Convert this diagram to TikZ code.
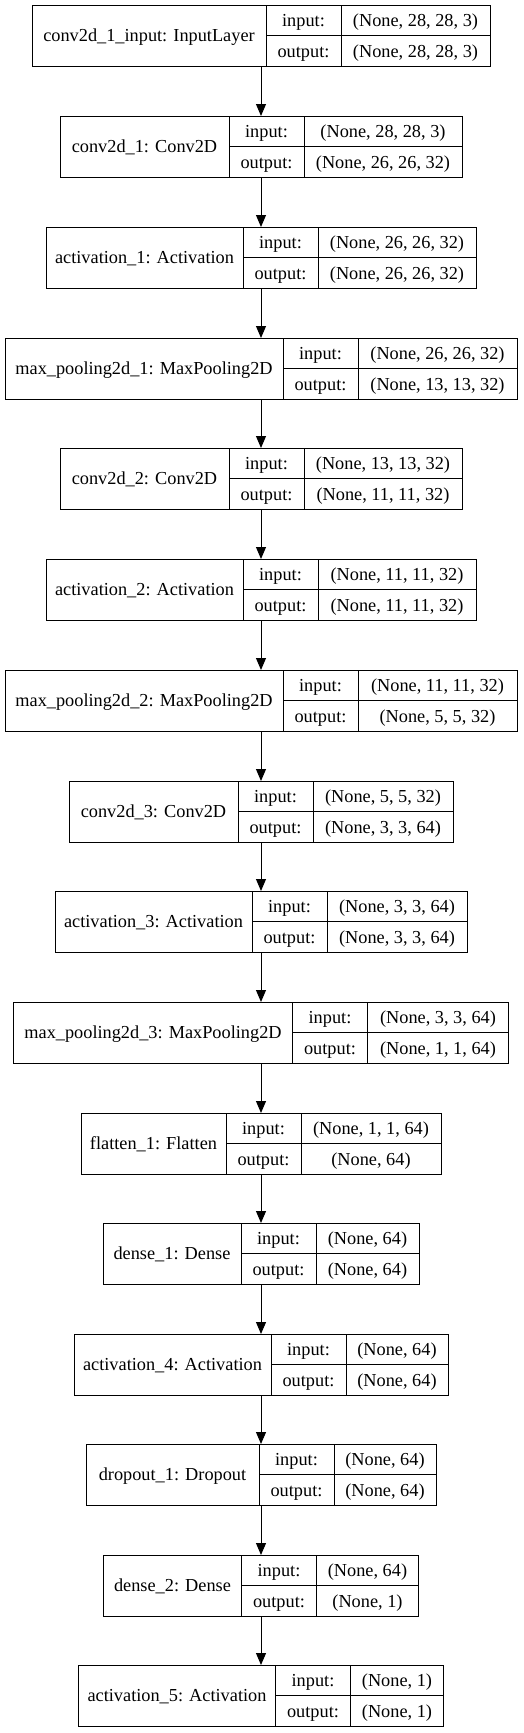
\documentclass[tikz,border=0pt]{standalone}
\usepackage{fontspec}
\setmainfont{Liberation Serif}
\usetikzlibrary{arrows.meta}

\begin{document}
\begin{tikzpicture}[x=1pt, y=-1pt,
    rec/.style={draw, line width=1pt, minimum height=61.5pt, inner sep=0, outer sep=0},
    cell/.style={draw, line width=1pt, inner sep=0, outer sep=0, text height=13pt, text depth=1pt,
        font=\fontsize{18.3}{20}\selectfont},
    arr/.style={-{Triangle[length=12pt, width=10pt]}, line width=1pt}]
    \def\H{61.5} \def\h{30.75} \def\W{75}
    \def\layer#1#2#3#4#5#6#7{
        \node[rec, minimum width={#3pt+\W pt+#4pt}, anchor=north] (#1) at (261, #2) {};
        \node[cell, minimum width=#3pt, minimum height=\H pt, anchor=north west] (#1n) at (#1.north west) {#5};
        \node[cell, minimum width=\W pt, minimum height=\h pt, anchor=north west] (#1i) at (#1n.north east) {input:};
        \node[cell, minimum width=\W pt, minimum height=\h pt, anchor=north west] (#1o) at (#1i.south west) {output:};
        \node[cell, minimum width=#4pt, minimum height=\h pt, anchor=north west] (#1a) at (#1i.north east) {#6};
        \node[cell, minimum width=#4pt, minimum height=\h pt, anchor=north west] (#1b) at (#1o.north east) {#7};
    }
    \useasboundingbox (0, 0) rectangle (523, 1733);

    \layer{cinput}{5}{234}{149}{conv2d\_1\_input: InputLayer}{(None, 28, 28, 3)}{(None, 28, 28, 3)}
    \layer{conva}{116}{169}{158}{conv2d\_1: Conv2D}{(None, 28, 28, 3)}{(None, 26, 26, 32)}
    \layer{acta}{227}{197}{158}{activation\_1: Activation}{(None, 26, 26, 32)}{(None, 26, 26, 32)}
    \layer{poola}{338}{278}{159}{max\_pooling2d\_1: MaxPooling2D}{(None, 26, 26, 32)}{(None, 13, 13, 32)}
    \layer{convb}{448}{169}{158}{conv2d\_2: Conv2D}{(None, 13, 13, 32)}{(None, 11, 11, 32)}
    \layer{actb}{559}{197}{158}{activation\_2: Activation}{(None, 11, 11, 32)}{(None, 11, 11, 32)}
    \layer{poolb}{670}{278}{159}{max\_pooling2d\_2: MaxPooling2D}{(None, 11, 11, 32)}{(None, 5, 5, 32)}
    \layer{convc}{781}{169}{140}{conv2d\_3: Conv2D}{(None, 5, 5, 32)}{(None, 3, 3, 64)}
    \layer{actc}{891}{197}{140}{activation\_3: Activation}{(None, 3, 3, 64)}{(None, 3, 3, 64)}
    \layer{poolc}{1002}{279}{141}{max\_pooling2d\_3: MaxPooling2D}{(None, 3, 3, 64)}{(None, 1, 1, 64)}
    \layer{flat}{1113}{145}{140}{flatten\_1: Flatten}{(None, 1, 1, 64)}{(None, 64)}
    \layer{densea}{1223}{138}{103}{dense\_1: Dense}{(None, 64)}{(None, 64)}
    \layer{actd}{1334}{197}{102}{activation\_4: Activation}{(None, 64)}{(None, 64)}
    \layer{drop}{1444}{173}{102}{dropout\_1: Dropout}{(None, 64)}{(None, 64)}
    \layer{denseb}{1555}{138}{102}{dense\_2: Dense}{(None, 64)}{(None, 1)}
    \layer{acte}{1665}{197}{93}{activation\_5: Activation}{(None, 1)}{(None, 1)}

    \draw[arr] (cinput.south) -- (conva.north);
    \draw[arr] (conva.south) -- (acta.north);
    \draw[arr] (acta.south) -- (poola.north);
    \draw[arr] (poola.south) -- (convb.north);
    \draw[arr] (convb.south) -- (actb.north);
    \draw[arr] (actb.south) -- (poolb.north);
    \draw[arr] (poolb.south) -- (convc.north);
    \draw[arr] (convc.south) -- (actc.north);
    \draw[arr] (actc.south) -- (poolc.north);
    \draw[arr] (poolc.south) -- (flat.north);
    \draw[arr] (flat.south) -- (densea.north);
    \draw[arr] (densea.south) -- (actd.north);
    \draw[arr] (actd.south) -- (drop.north);
    \draw[arr] (drop.south) -- (denseb.north);
    \draw[arr] (denseb.south) -- (acte.north);
\end{tikzpicture}
\end{document}
